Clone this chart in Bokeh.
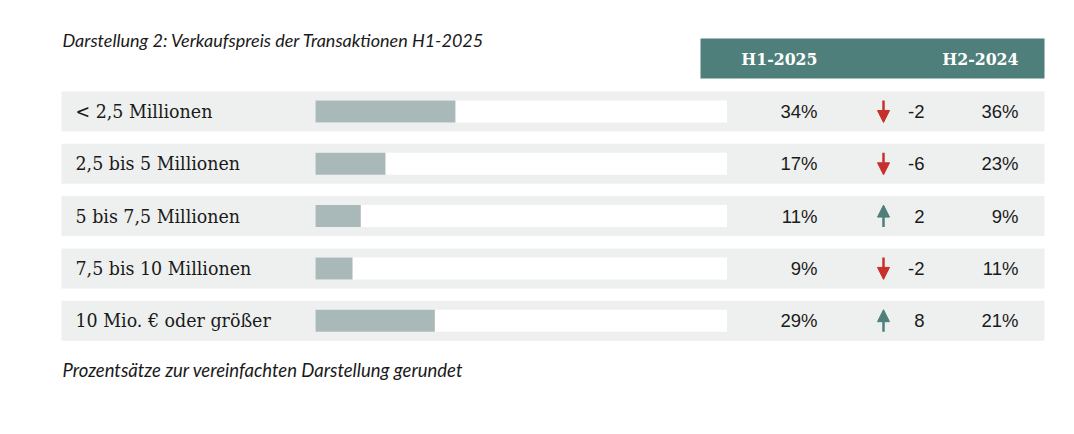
from bokeh.plotting import figure
from bokeh.models import Range1d, ColumnDataSource, Arrow, NormalHead, Label
from bokeh.core.properties import value
from bokeh.embed import file_html
from bokeh.resources import INLINE

# ---- data ----
categories = ["< 2,5 Millionen", "2,5 bis 5 Millionen", "5 bis 7,5 Millionen",
              "7,5 bis 10 Millionen", "10 Mio. € oder größer"]
h1_2025 = [34, 17, 11, 9, 29]
change = [-2, -6, 2, -2, 8]
h2_2024 = [36, 23, 9, 11, 21]
col_labels = ["H1-2025", "H2-2024"]
title = "Darstellung 2: Verkaufspreis der Transaktionen H1-2025"
footnote = "Prozentsätze zur vereinfachten Darstellung gerundet"

# ---- layout constants ----
W, H = 1058, 418
TEAL = "#4e7f7b"
RED = "#c8302b"
ROW_BG = "#eef0ef"
BAR = "#a9b8b9"
row0, pitch = 111.0, 52.3
bar_x0, bar_x1 = 315.0, 726.5
bar_scale = (bar_x1 - bar_x0) / 100.0
SERIF = value("DejaVu Serif Condensed")
SANS = value("Liberation Sans")

p = figure(width=W, height=H, output_backend="svg", toolbar_location=None,
           x_range=Range1d(0, W), y_range=Range1d(H, 0),
           min_border=0, outline_line_color=None)
p.axis.visible = False
p.grid.visible = False
p.background_fill_color = "white"
p.border_fill_color = "white"

n = len(categories)
ys = [row0 + i * pitch for i in range(n)]
src = ColumnDataSource(dict(
    y=ys,
    cat=categories,
    h1=h1_2025,
    h1_txt=[f"{v}%" for v in h1_2025],
    h2_txt=[f"{v}%" for v in h2_2024],
    ch_txt=[str(c) for c in change],
    bar_right=[bar_x0 + v * bar_scale for v in h1_2025],
))

# row backgrounds
p.hbar(y="y", left=61, right=1044, height=40, source=src,
       fill_color=ROW_BG, line_color=None)
# white tracks
p.hbar(y="y", left=bar_x0, right=bar_x1, height=22, source=src,
       fill_color="white", line_color=None)
# bars
p.hbar(y="y", left=bar_x0, right="bar_right", height=22, source=src,
       fill_color=BAR, line_color=None)

# labels
p.text(x=75, y="y", text="cat", source=src, text_font=SERIF,
       text_font_size="19.4px", text_baseline="middle", text_color="#1a1a1a")
p.text(x=817, y="y", text="h1_txt", source=src, text_font=SANS,
       text_font_size="18.5px", text_baseline="middle", text_align="right",
       text_color="#1a1a1a")
p.text(x=924, y="y", text="ch_txt", source=src, text_font=SANS,
       text_font_size="18.5px", text_baseline="middle", text_align="right",
       text_color="#1a1a1a")
p.text(x=1018, y="y", text="h2_txt", source=src, text_font=SANS,
       text_font_size="18.5px", text_baseline="middle", text_align="right",
       text_color="#1a1a1a")

# arrows
ax = 883
up = dict(x=[], ys=[], ye=[])
dn = dict(x=[], ys=[], ye=[])
for y, c in zip(ys, change):
    if c >= 0:
        up["x"].append(ax); up["ys"].append(y + 11); up["ye"].append(y - 11)
    else:
        dn["x"].append(ax); dn["ys"].append(y - 11); dn["ye"].append(y + 11)
for d, col in ((up, TEAL), (dn, RED)):
    s = ColumnDataSource(dict(x0=d["x"], y0=d["ys"], x1=d["x"], y1=d["ye"]))
    p.add_layout(Arrow(x_start="x0", y_start="y0", x_end="x1", y_end="y1",
                       source=s, line_color=col, line_width=2.5,
                       end=NormalHead(size=12, fill_color=col, line_color=col,
                                      line_width=1)))

# header
p.quad(left=700, right=1044, top=38, bottom=78, fill_color=TEAL, line_color=None)
p.text(x=[817, 1018], y=[58, 58], text=col_labels, text_font=SERIF,
       text_font_style="bold", text_font_size="17.5px", text_color="white",
       text_baseline="middle", text_align="right")

# title & footnote
p.add_layout(Label(x=62, y=39, text=title, text_font="Lato",
                   text_font_style="italic", text_font_size="18px",
                   text_baseline="middle", text_color="#1a1a1a"))
p.add_layout(Label(x=62, y=369, text=footnote, text_font="Lato",
                   text_font_style="italic", text_font_size="18.5px",
                   text_baseline="middle", text_color="#1a1a1a"))

open("out.html", "w").write(file_html(p, INLINE))
